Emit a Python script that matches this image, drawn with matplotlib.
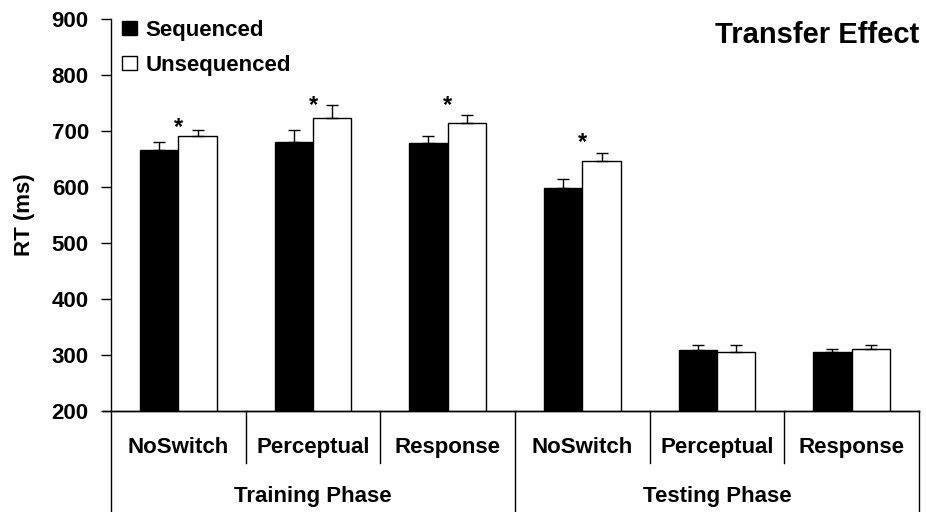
import matplotlib.pyplot as plt
from matplotlib.patches import Patch
import matplotlib.transforms as mtransforms
import numpy as np

plt.rcParams['font.family'] = ['Liberation Sans', 'DejaVu Sans']
plt.rcParams['font.weight'] = 'bold'

conditions = ['NoSwitch', 'Perceptual', 'Response', 'NoSwitch', 'Perceptual', 'Response']
phases = ['Training Phase', 'Testing Phase']
sequenced = [666, 680, 678, 599, 309, 306]
sequenced_err = [14, 22, 13, 15, 8, 5]
unsequenced = [691, 723, 715, 647, 306, 311]
unsequenced_err = [11, 23, 14, 14, 11, 6]
stars = [707, 746, 746, 679]  # significance marks (training x3, testing NoSwitch)

fig = plt.figure(figsize=(9.26, 5.12), dpi=100)
ax = fig.add_axes([0.1199, 0.1973, 0.8725, 0.7656])

x = np.arange(len(conditions))
w = 0.285
ax.bar(x - w / 2, sequenced, w, color='black', edgecolor='black', linewidth=1,
       yerr=[np.zeros(6), sequenced_err], capsize=4.5,
       error_kw=dict(elinewidth=1, capthick=1, ecolor='black'))
ax.bar(x + w / 2, unsequenced, w, color='white', edgecolor='black', linewidth=1,
       yerr=[np.zeros(6), unsequenced_err], capsize=4.5,
       error_kw=dict(elinewidth=1, capthick=1, ecolor='black'))

for xi, sy in zip([0, 1, 2, 3], stars):
    ax.text(xi, sy, '*', ha='center', va='center', fontsize=17, fontweight='bold')

ax.set_xlim(-0.5, 5.5)
ax.set_ylim(200, 900)
ax.set_yticks(range(200, 901, 100))
ax.tick_params(axis='y', direction='out', length=7, width=1, labelsize=16, pad=9)
ax.set_xticks([])
ax.spines['top'].set_visible(False)
ax.spines['right'].set_visible(False)
ax.spines['left'].set_linewidth(1)
ax.spines['bottom'].set_linewidth(1)
ax.set_ylabel('RT (ms)', fontsize=16, fontweight='bold', labelpad=12)

# grouped category axis underneath
trans = mtransforms.blended_transform_factory(ax.transData, ax.transAxes)
for b in [0.5, 1.5, 3.5, 4.5]:
    ax.plot([b, b], [0, -0.1327], color='black', lw=1, transform=trans, clip_on=False)
for b in [-0.5, 2.5, 5.5]:
    ax.plot([b, b], [0, -0.258], color='black', lw=1, transform=trans, clip_on=False)
ax.plot([-0.56, 5.5], [0, 0], color='black', lw=1, transform=trans, clip_on=False)
for xi, lab in zip(x, conditions):
    ax.text(xi, -0.0944, lab, ha='center', va='center', fontsize=16,
            fontweight='bold', transform=trans)
for i, lab in enumerate(phases):
    ax.text(1 + 3 * i, -0.219, lab, ha='center', va='center', fontsize=16,
            fontweight='bold', transform=trans)

ax.text(1.0, 0.995, 'Transfer Effect', ha='right', va='top', fontsize=21,
        fontweight='bold', transform=ax.transAxes)

handles = [Patch(facecolor='black', edgecolor='black'),
           Patch(facecolor='white', edgecolor='black')]
ax.legend(handles, ['Sequenced', 'Unsequenced'], loc='upper left',
          bbox_to_anchor=(0.003, 1.02), frameon=False, fontsize=16,
          handlelength=0.68, handleheight=0.63, handletextpad=0.36,
          labelspacing=0.63, borderaxespad=0)

fig.savefig('out.png', dpi=100)
